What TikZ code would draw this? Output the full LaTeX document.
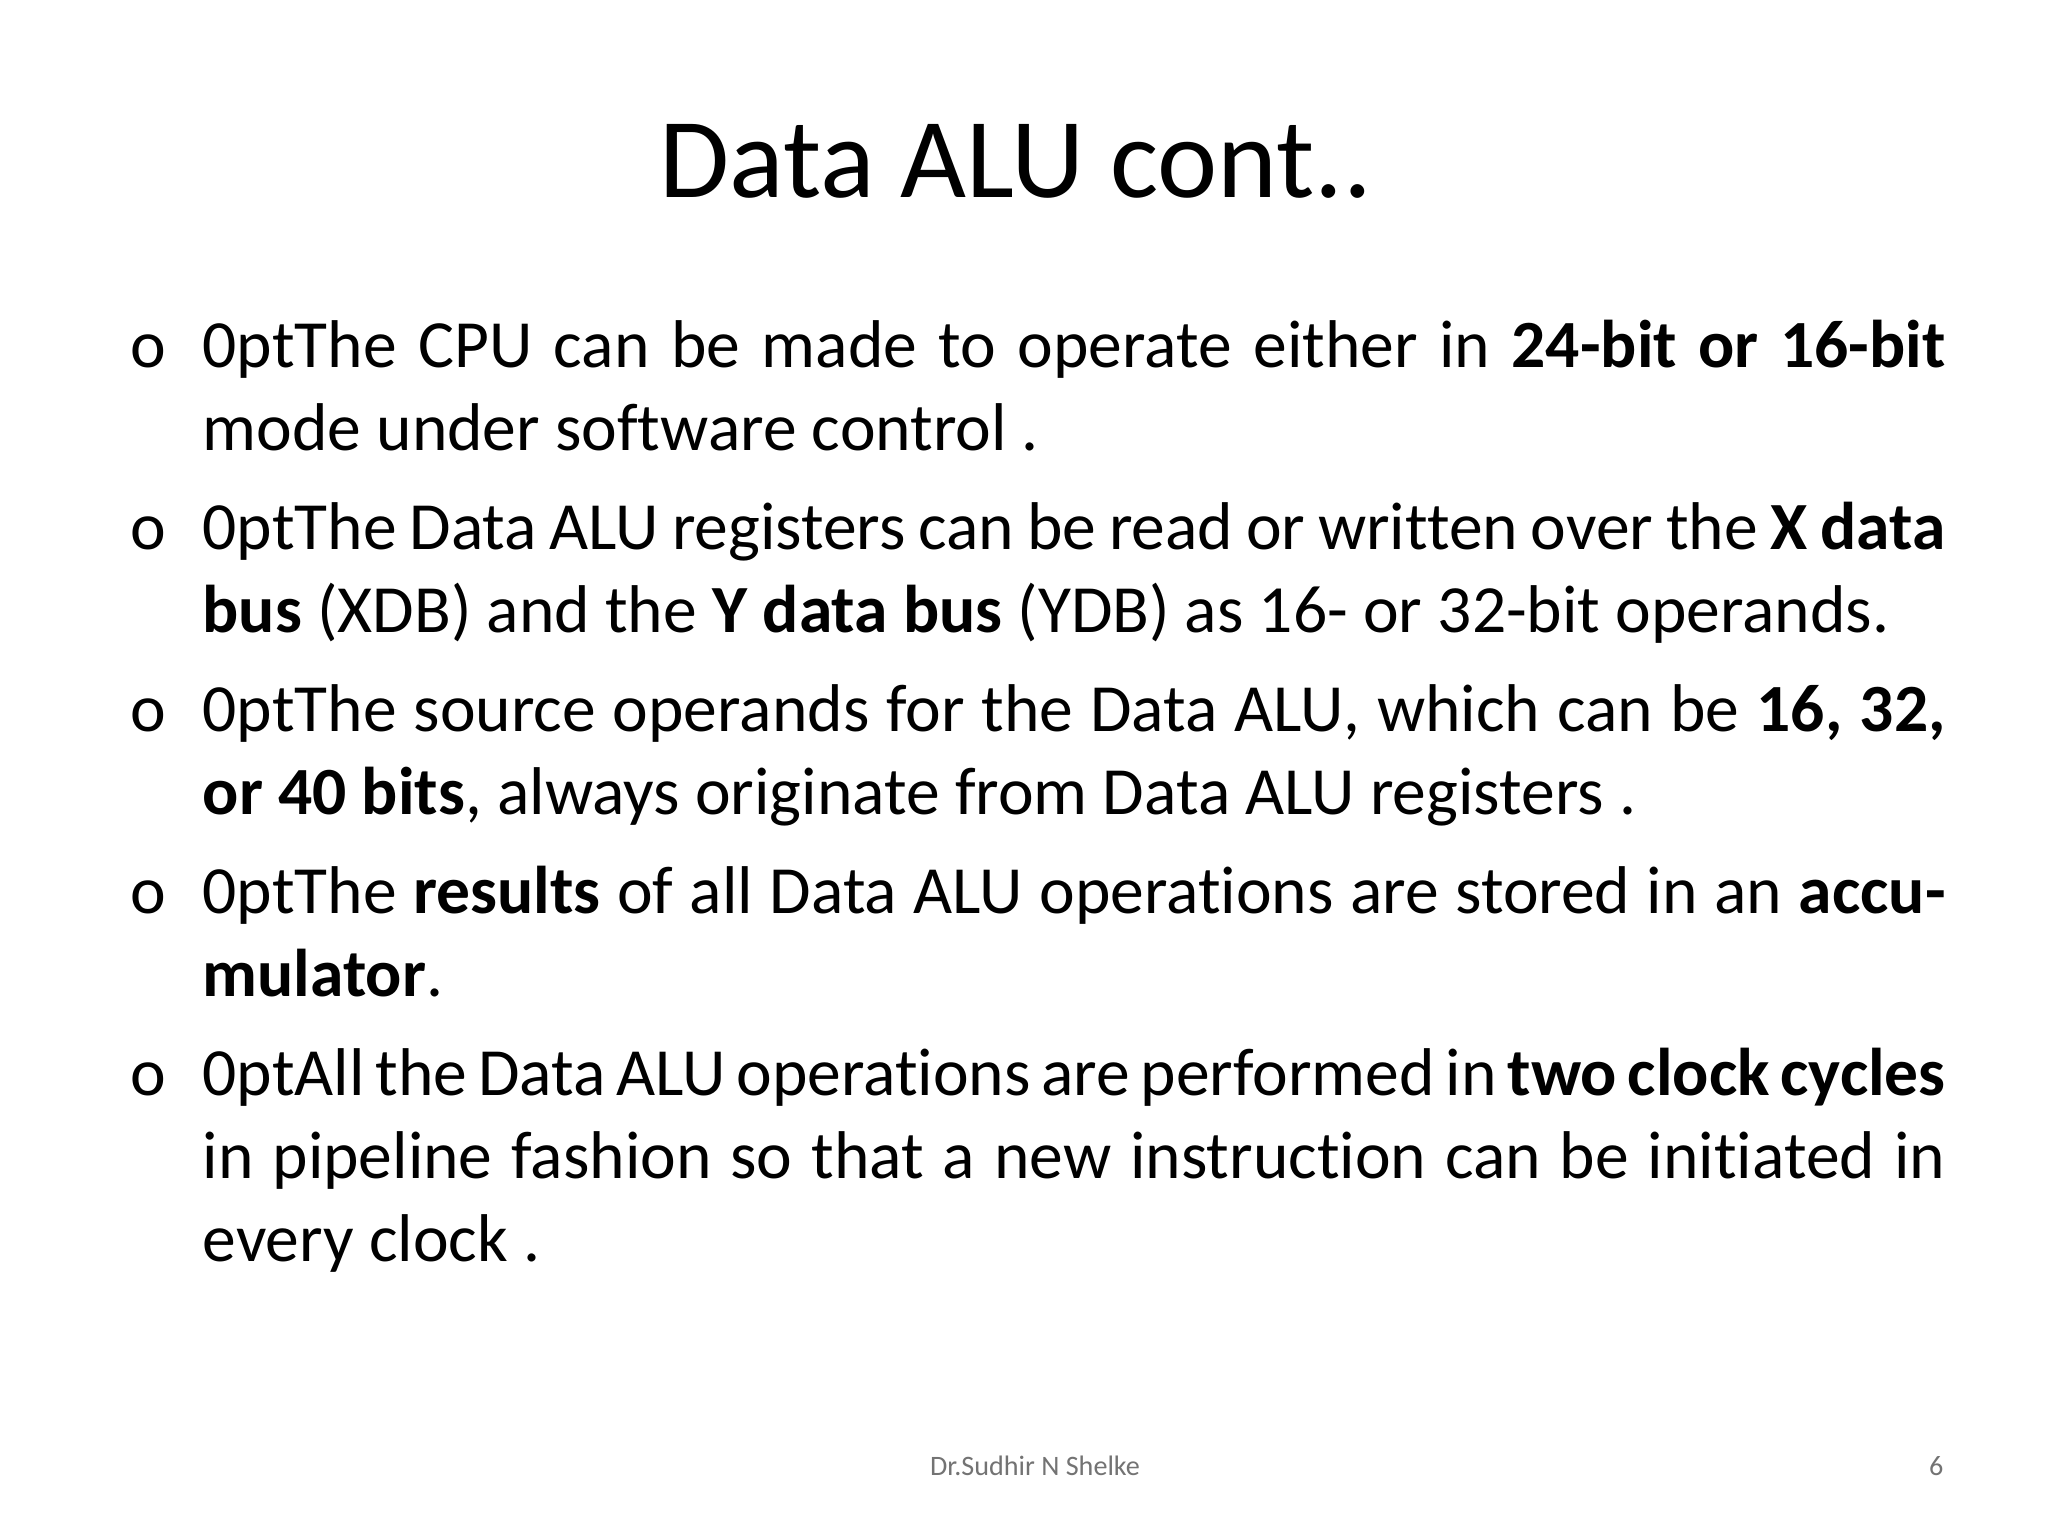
\documentclass[tikz,border=0pt]{standalone}
\usepackage{fontspec}
\setmainfont{Carlito}[Ligatures={NoCommon}]
\begin{document}
\begin{tikzpicture}[x=0.01cm,y=-0.01cm,
  item/.style={anchor=base west,inner sep=0pt,text width=17.42cm,align=justify,font=\fontsize{19.2}{23.6}\selectfont\hyphenpenalty=10000\exhyphenpenalty=10000},
  bul/.style={anchor=base west,inner sep=0pt,font=\fontsize{19.2}{23.6}\selectfont},
  foot/.style={inner sep=0pt,text=black!55,font=\fontsize{8}{10}\selectfont}]
\useasboundingbox[fill=white] (0,0) rectangle (2048,1536);
\node[inner sep=0pt,anchor=base,font=\fontsize{32.4}{36}\selectfont] (title) at (1016,197) {Data ALU cont..};
\foreach \i/\y in {1/367,2/549,3/731,4/913,5/1095}{
  \node[bul] (b\i) at (130,\y) {o};
}
\node[item] (t1) at (202,367) {The CPU can be made to operate either in \textbf{24-bit or 16-bit} mode under software control .};
\node[item] (t2) at (202,549) {The Data ALU registers can be read or written over the \textbf{X data bus} (XDB) and the \textbf{Y data bus} (YDB) as 16- or 32-bit operands.};
\node[item] (t3) at (202,731) {The source operands for the Data ALU, which can be \textbf{16, 32, or 40 bits}, always originate from Data ALU registers .};
\node[item] (t4) at (202,913) {The \textbf{results} of all Data ALU operations are stored in an \textbf{accumulator}.};
\node[item] (t5) at (202,1095) {All the Data ALU operations are performed in \textbf{two clock cycles} in pipeline fashion so that a new instruction can be initiated in every clock .};
\node[foot,anchor=base] (f1) at (1035,1475) {Dr.Sudhir N Shelke};
\node[foot,anchor=base east] (f2) at (1944,1475) {6};
\end{tikzpicture}
\end{document}
